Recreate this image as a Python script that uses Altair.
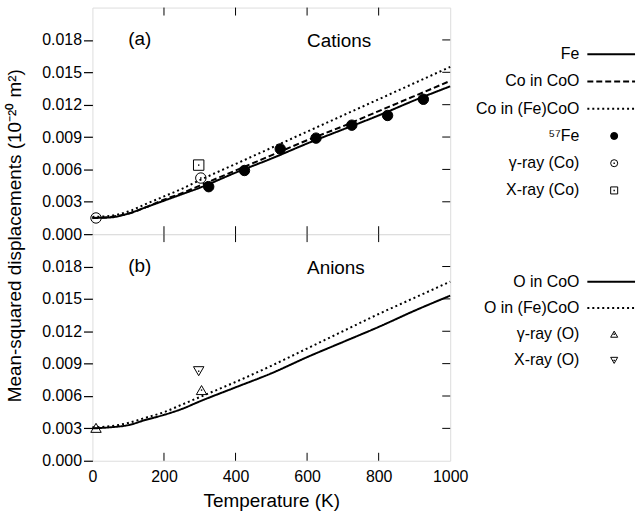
import altair as alt
import pandas as pd

# ---------------- data ----------------
temps = [0, 50, 100, 150, 200, 250, 300, 400, 500, 600, 700, 800, 900, 1000]

# panel (a) cations - calculated curves
fe_calc = [0.0015, 0.00155, 0.0019, 0.0025, 0.0031, 0.0037, 0.0043, 0.0057, 0.0070, 0.0084, 0.0097, 0.0110, 0.0124, 0.0137]
co_coo_calc = [0.0015, 0.0016, 0.0019, 0.0025, 0.0032, 0.0038, 0.0045, 0.0059, 0.0073, 0.0087, 0.0100, 0.0114, 0.0128, 0.0142]
co_fecoo_calc = [0.0016, 0.0017, 0.0021, 0.0028, 0.0035, 0.0042, 0.0050, 0.0065, 0.0080, 0.0095, 0.0110, 0.0125, 0.0140, 0.0155]

# panel (a) experimental points
fe57_T = [325, 425, 525, 625, 725, 825, 925]
fe57_v = [0.0044, 0.0059, 0.0079, 0.0089, 0.0101, 0.0110, 0.0125]
gco_T = [10, 303]
gco_v = [0.0015, 0.0052]
xco_T = [297]
xco_v = [0.0064]

# panel (b) anions - calculated curves
o_coo_calc = [0.0030, 0.0031, 0.0033, 0.0038, 0.00425, 0.0048, 0.0055, 0.0068, 0.0081, 0.0096, 0.0110, 0.0124, 0.0139, 0.0153]
o_fecoo_calc = [0.0031, 0.0032, 0.0035, 0.0040, 0.0045, 0.0052, 0.0059, 0.0073, 0.0088, 0.0104, 0.0120, 0.0136, 0.0151, 0.0166]

# panel (b) experimental points
go_T = [10, 305]
go_v = [0.00305, 0.00655]
xo_T = [297]
xo_v = [0.0083]

top_names = ["Fe", "Co in CoO", "Co in (Fe)CoO", "⁵⁷Fe", "γ-ray (Co)", "X-ray (Co)"]
bot_names = ["O in CoO", "O in (Fe)CoO", "γ-ray (O)", "X-ray (O)"]

x_ticks = [0, 200, 400, 600, 800, 1000]
inner_x_ticks = [200, 400, 600, 800]
y_ticks = [0.000, 0.003, 0.006, 0.009, 0.012, 0.015, 0.018]
inner_y_ticks = [0.003, 0.006, 0.009, 0.012, 0.015, 0.018]

# ---------------- helpers ----------------
W, H = 360, 228
FONT = "Liberation Sans"


def line_frame(names, series):
    rows = []
    for n, vals in zip(names, series):
        for t, v in zip(temps, vals):
            rows.append({"T": t, "v": v, "s": n})
    return pd.DataFrame(rows)


def point_frame(groups):
    rows = []
    for n, ts, vs in groups:
        for t, v in zip(ts, vs):
            rows.append({"T": t, "v": v, "s": n})
    return pd.DataFrame(rows)


xs = alt.Scale(domain=[0, 1000], nice=False, zero=False)
ys = alt.Scale(domain=[0, 0.021], nice=False, zero=False)


def panel(names, n_lines, line_df, pts_df, dot_df, dash, shapes, fills,
          tag, heading, yaxis, xaxis, leg_range):
    # every layer of the data group carries the same axis definitions
    def X():
        return alt.X("T:Q", scale=xs, axis=xaxis)

    def Y():
        return alt.Y("v:Q", scale=ys, axis=yaxis)

    line_names = names[:n_lines]
    pt_names = names[n_lines:]
    dash_scale = alt.Scale(domain=line_names, range=dash)
    shape_scale = alt.Scale(domain=pt_names, range=shapes)
    fill_scale = alt.Scale(domain=pt_names, range=fills)

    lines = alt.Chart(line_df).mark_line(color="black", interpolate="monotone", strokeWidth=2).encode(
        x=X(), y=Y(),
        strokeDash=alt.StrokeDash("s:N", scale=dash_scale, legend=None),
    )
    pts = alt.Chart(pts_df).mark_point(color="black", filled=False, opacity=1, strokeWidth=1, size=110).encode(
        x=X(), y=Y(),
        shape=alt.Shape("s:N", scale=shape_scale, legend=None),
        fill=alt.Fill("s:N", scale=fill_scale, legend=None),
    )
    dots = alt.Chart(dot_df).mark_point(color="black", filled=True, opacity=1, size=2, shape="square").encode(
        x=X(), y=Y()
    )
    tx = pd.DataFrame({"T": inner_x_ticks})
    ty = pd.DataFrame({"v": inner_y_ticks})
    top_ticks = alt.Chart(tx).mark_rule(color="black", strokeWidth=1).encode(
        x=X(), y=alt.value(0), y2=alt.value(8))
    bot_ticks = alt.Chart(tx).mark_rule(color="black", strokeWidth=1).encode(
        x=X(), y=alt.value(H - 8), y2=alt.value(H))
    right_ticks = alt.Chart(ty).mark_rule(color="black", strokeWidth=1).encode(
        y=Y(), x=alt.value(W - 8), x2=alt.value(W))
    lab = alt.Chart(pd.DataFrame({"t": [tag]})).mark_text(
        align="left", baseline="middle", fontSize=19, font=FONT, color="black"
    ).encode(text="t:N", x=alt.value(36), y=alt.value(32))
    head = alt.Chart(pd.DataFrame({"t": [heading]})).mark_text(
        align="left", baseline="middle", fontSize=19, font=FONT, color="black"
    ).encode(text="t:N", x=alt.value(216), y=alt.value(34))

    data_layer = alt.layer(lines, pts, dots, top_ticks, bot_ticks, right_ticks, lab, head)

    # ---- legend drawn as marks on a row-index scale of entries ----
    n = len(names)
    leg_scale = alt.Scale(domain=[0, n - 1], range=leg_range, nice=False, zero=False)
    ly = alt.Y("i:Q", scale=leg_scale, axis=None)
    leg_df = pd.DataFrame({"s": names, "i": list(range(n))})
    leg_lines_df = leg_df.iloc[:n_lines]
    leg_pts_df = leg_df.iloc[n_lines:]
    leg_dots_df = leg_pts_df[[f != "black" for f in fills]]

    leg_text = alt.Chart(leg_df).mark_text(
        align="right", baseline="middle", fontSize=16, font=FONT, color="black"
    ).encode(text="s:N", y=ly, x=alt.value(490))
    leg_rules = alt.Chart(leg_lines_df).mark_rule(color="black", strokeWidth=2).encode(
        y=ly, x=alt.value(498), x2=alt.value(546),
        strokeDash=alt.StrokeDash("s:N", scale=dash_scale, legend=None),
    )
    leg_pts = alt.Chart(leg_pts_df).mark_point(color="black", filled=False, opacity=1, strokeWidth=1, size=50).encode(
        y=ly, x=alt.value(525),
        shape=alt.Shape("s:N", scale=shape_scale, legend=None),
        fill=alt.Fill("s:N", scale=fill_scale, legend=None),
    )
    leg_dots = alt.Chart(leg_dots_df).mark_point(color="black", filled=True, opacity=1, size=2, shape="square").encode(
        y=ly, x=alt.value(525))
    legend_layer = alt.layer(leg_text, leg_rules, leg_pts, leg_dots)

    return alt.layer(data_layer, legend_layer).resolve_scale(y="independent").properties(
        width=W, height=H)


yaxis_common = dict(values=y_ticks, format=".3f", tickSize=9, tickWidth=1.2, tickColor="black",
                    labelFontSize=16, labelPadding=2, labelColor="black", domain=False, grid=False,
                    labelFont=FONT, labelOverlap=False, labelFlush=False)

yaxis_top = alt.Axis(title="Mean-squared displacements (10⁻²⁰ m²)", titleX=-78, titleY=H + 1,
                     titleAngle=270, titleAlign="center", titleBaseline="middle",
                     titleFontSize=19, titleFontWeight="normal", titleFont=FONT, titleColor="black",
                     **yaxis_common)
yaxis_bot = alt.Axis(title=None, **yaxis_common)

xaxis_top = None
xaxis_bot = alt.Axis(values=x_ticks, format="d", title="Temperature (K)", ticks=False, domain=False,
                     grid=False, labelFontSize=16, labelPadding=8, labelColor="black", labelFont=FONT,
                     labelFlush=False, labelOverlap=False, titleFontSize=19, titleFontWeight="normal",
                     titleFont=FONT, titleColor="black", titlePadding=7)

top = panel(
    top_names, 3,
    line_frame(top_names[:3], [fe_calc, co_coo_calc, co_fecoo_calc]),
    point_frame([(top_names[3], fe57_T, fe57_v), (top_names[4], gco_T, gco_v), (top_names[5], xco_T, xco_v)]),
    point_frame([(top_names[4], gco_T, gco_v), (top_names[5], xco_T, xco_v)]),
    [[1, 0], [6, 3], [2, 3]],
    ["circle", "circle", "square"],
    ["black", "transparent", "transparent"],
    "(a)", "Cations", yaxis_top, xaxis_top, [47, 184],
)

bottom = panel(
    bot_names, 2,
    line_frame(bot_names[:2], [o_coo_calc, o_fecoo_calc]),
    point_frame([(bot_names[2], go_T, go_v), (bot_names[3], xo_T, xo_v)]),
    point_frame([(bot_names[2], go_T, go_v), (bot_names[3], xo_T, xo_v)]),
    [[1, 0], [2, 3]],
    ["triangle-up", "triangle-down"],
    ["transparent", "transparent"],
    "(b)", "Anions", yaxis_bot, xaxis_bot, [48, 127],
)

chart = alt.vconcat(top, bottom, spacing=0, bounds="flush").resolve_scale(
    y="independent", strokeDash="independent", shape="independent", fill="independent"
).configure_view(
    stroke="black", strokeWidth=2
).configure(font=FONT)

chart.save("out.html", embed_options={"renderer": "svg", "actions": False})
